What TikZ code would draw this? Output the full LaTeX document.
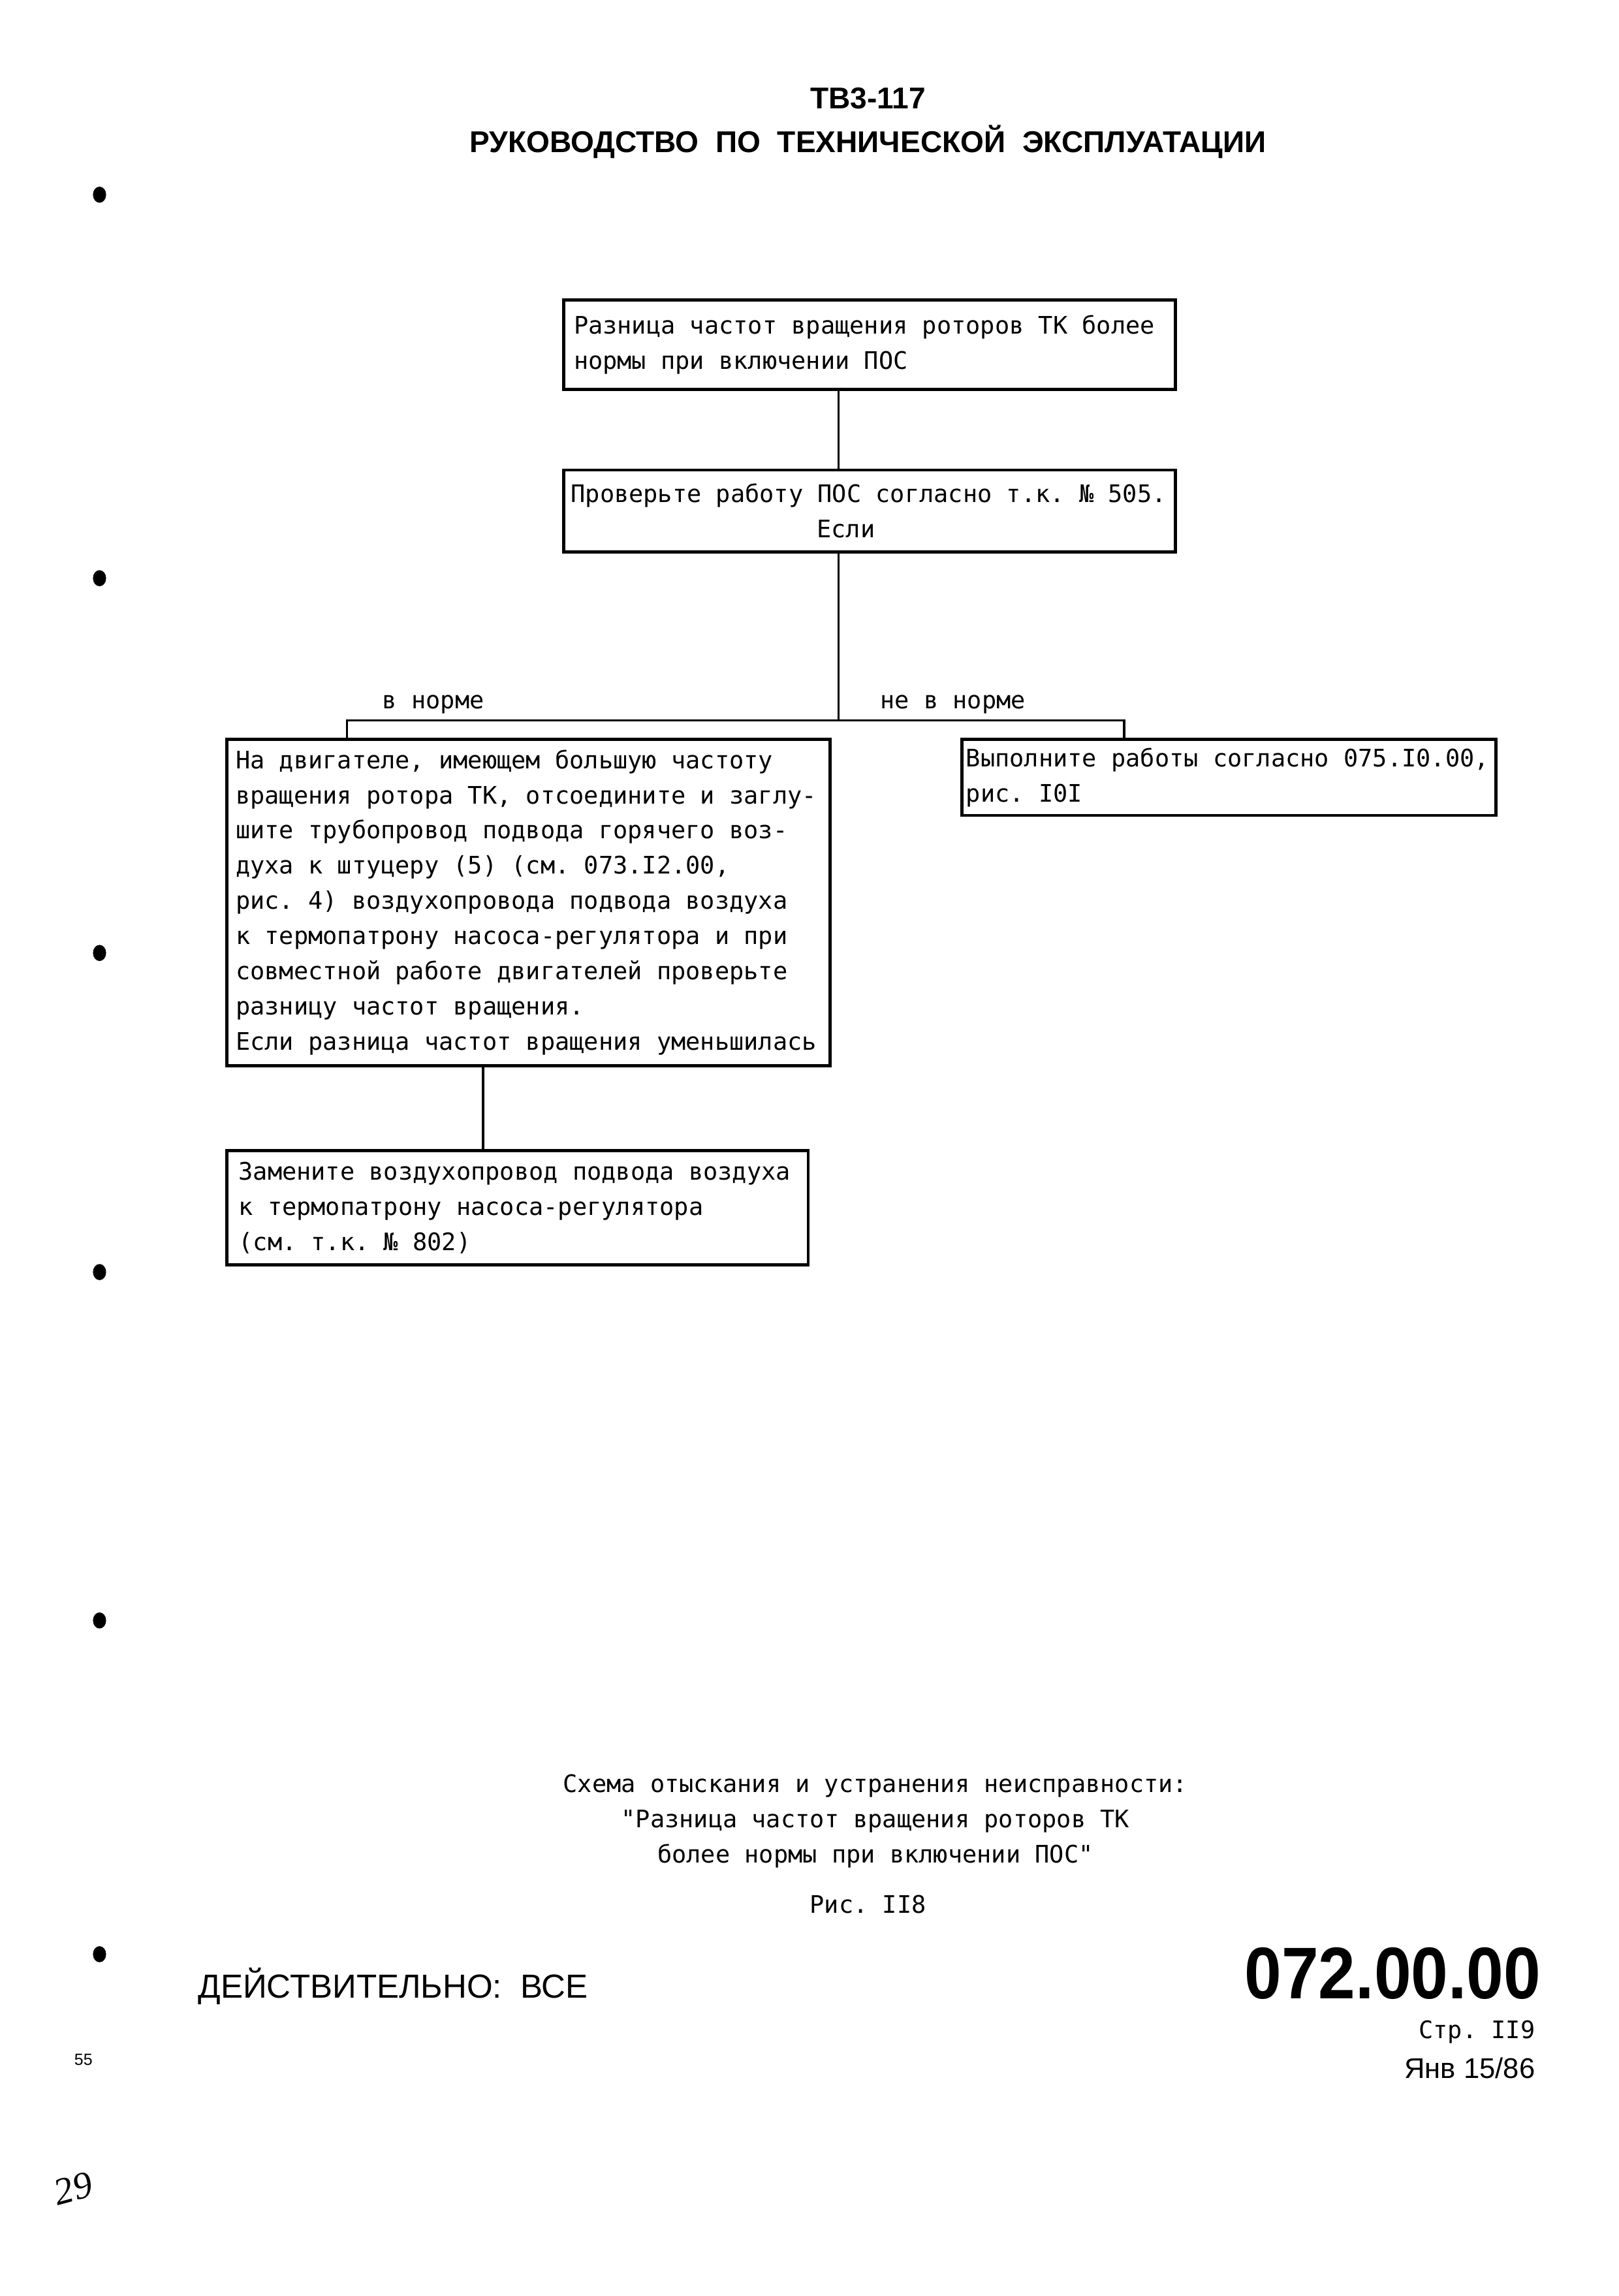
\documentclass[tikz,border=0pt]{standalone}
\usepackage{fontspec}
\setmainfont{Liberation Serif}
\newfontfamily\twfont{DejaVu Sans Mono}
\newfontfamily\hsfont{Liberation Sans}
\newdimen\upx \upx=0.0189873cm
\newcommand\monosp{\spaceskip=0.602em\xspaceskip=0.602em\relax}
\begin{document}
\begin{tikzpicture}[x=\upx,y=-\upx,
  tw/.style={font=\twfont\fontsize{8.9}{13}\selectfont, execute at begin node=\monosp},
  flowbox/.style={draw, line width=1.1pt, rectangle, anchor=north west,
    inner ysep=0pt, align=left, tw},
  conn/.style={line width=0.8pt},
  lbl/.style={tw, inner sep=0pt},
  head/.style={font=\hsfont\bfseries\fontsize{11.1}{12}\selectfont, inner sep=0pt},
  dot/.style={fill=black}]
\useasboundingbox[fill=white] (0,0) rectangle (1106,1568.5);

% header
\node[head] (t1) at (593,67) {ТВ3-117};
\node[head] (t2) at (593,97) {РУКОВОДСТВО\ \ ПО\ \ ТЕХНИЧЕСКОЙ\ \ ЭКСПЛУАТАЦИИ};

% binder holes
\foreach \yy in {133,395,651,869,1107,1335}
  \fill[dot] (68,\yy) ellipse [x radius=4.5, y radius=5.5];

% boxes
\node[flowbox, inner xsep=7\upx, text width=404\upx, minimum width=418\upx, minimum height=61\upx] (b1) at (384,204)
  {Разница частот вращения роторов ТК более\\нормы при включении ПОС};
\node[flowbox, inner xsep=5\upx, text width=408\upx, minimum width=418\upx, minimum height=56\upx] (b2) at (384,320)
  {Проверьте работу ПОС согласно т.к. № 505.\\\hspace*{10.2em}Если};
\node[flowbox, inner xsep=6\upx, text width=400\upx, minimum width=412\upx, minimum height=223\upx] (b3) at (154,504)
  {На двигателе, имеющем большую частоту\\
   вращения ротора ТК, отсоедините и заглу-\\
   шите трубопровод подвода горячего воз-\\
   духа к штуцеру (5) (см. 073.I2.00,\\
   рис. 4) воздухопровода подвода воздуха\\
   к термопатрону насоса-регулятора и при\\
   совместной работе двигателей проверьте\\
   разницу частот вращения.\\
   Если разница частот вращения уменьшилась};
\node[flowbox, inner xsep=3\upx, text width=359\upx, minimum width=365\upx, minimum height=52\upx] (b4) at (656,504)
  {Выполните работы согласно 075.I0.00,\\рис. I0I};
\node[flowbox, inner xsep=8\upx, text width=381\upx, minimum width=397\upx, minimum height=78\upx] (b5) at (154,785)
  {Замените воздухопровод подвода воздуха\\к термопатрону насоса-регулятора\\(см. т.к. № 802)};

% connectors
\coordinate (j) at (573,492);
\coordinate (jl) at (237,492);
\coordinate (jr) at (768,492);
\coordinate (k) at (330,745);
\draw[conn] (b1.south -| j) -- (b2.north -| j);
\draw[conn] (b2.south -| j) -- (j);
\draw[conn] (b3.north -| jl) -- (jl) -- (jr) -- (b4.north -| jr);
\draw[conn] (b3.south -| k) -- (b5.north -| k);
\node[lbl] (l1) at (296,481) {в норме};
\node[lbl] (l2) at (651,481) {не в норме};

% caption
\node[tw, align=center, inner sep=0pt] (cap) at (598,1244)
  {Схема отыскания и устранения неисправности:\\
   "Разница частот вращения роторов ТК\\
   более нормы при включении ПОС"};
\node[tw, inner sep=0pt] (fig) at (593,1301) {Рис. II8};

% footer
\node[font=\hsfont\fontsize{12.3}{14}\selectfont, anchor=west, inner sep=0pt] (valid) at (135,1357) {ДЕЙСТВИТЕЛЬНО:\ \ ВСЕ};
\node[font=\hsfont\bfseries\fontsize{27}{30}\selectfont, anchor=east, inner sep=0pt] (code) at (1053,1348) {\scalebox{0.91}[1]{072.00.00}};
\node[tw, anchor=east, inner sep=0pt] (page) at (1049,1388) {Стр. II9};
\node[font=\hsfont\fontsize{10.5}{12}\selectfont, anchor=east, inner sep=0pt] (date) at (1049,1413) {Янв 15/86};
\node[font=\hsfont\fontsize{6}{7}\selectfont, inner sep=0pt] (num) at (57,1407) {55};
\node[font=\itshape\fontsize{14}{16}\selectfont, rotate=15, inner sep=0pt] (hand) at (50,1495) {29};
\end{tikzpicture}
\end{document}
